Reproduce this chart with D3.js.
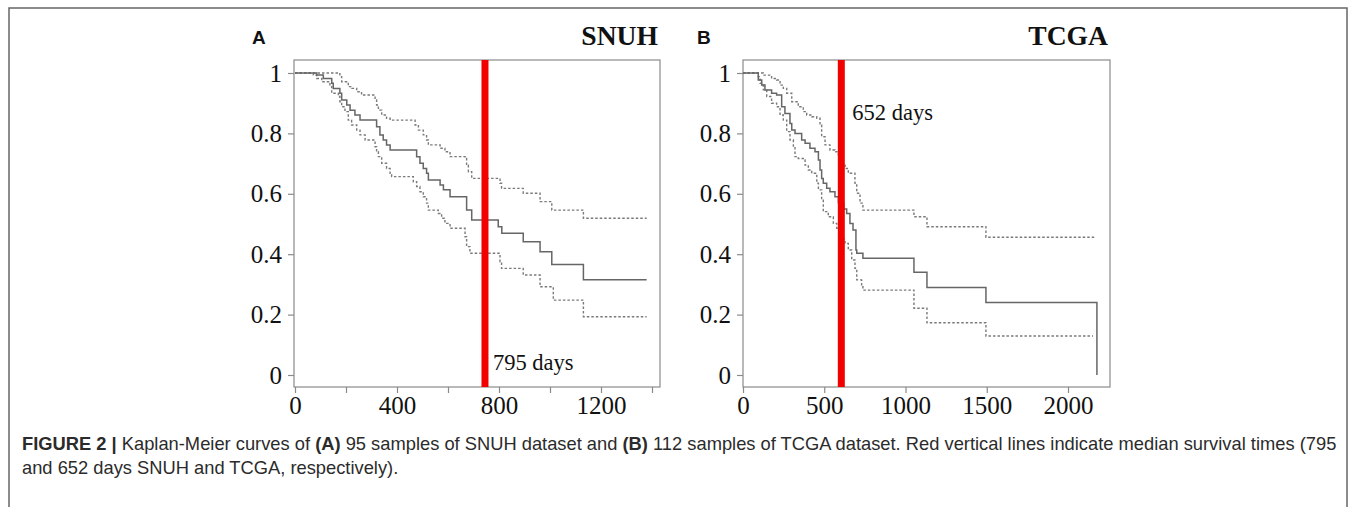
<!DOCTYPE html>
<html lang="en">
<head>
<meta charset="UTF-8">
<title>Kaplan-Meier curves</title>
<script src="https://d3js.org/d3.v7.min.js"></script>
<style>
  body { margin: 0; background: #fff; }
</style>
</head>
<body>
<svg width="1358" height="507"></svg>
<script>
// --- data: [days, survival] step points ---
var snuhSurv = [[0,1],[85,0.993],[111,0.982],[144,0.966],[150,0.949],[176,0.933],[183,0.911],[203,0.894],[216,0.877],[235,0.861],[255,0.844],[320,0.822],[333,0.795],[346,0.778],[359,0.762],[373,0.745],[477,0.723],[490,0.701],[503,0.684],[516,0.668],[523,0.646],[569,0.629],[582,0.613],[608,0.590],[673,0.546],[693,0.513],[797,0.491],[811,0.469],[895,0.441],[961,0.408],[1007,0.366],[1131,0.315],[1379,0.315]];
var snuhUpper = [[0,1],[176,0.988],[183,0.971],[209,0.955],[222,0.949],[242,0.938],[261,0.927],[314,0.911],[320,0.894],[327,0.877],[340,0.861],[359,0.85],[373,0.844],[471,0.828],[484,0.811],[503,0.795],[516,0.778],[523,0.762],[569,0.751],[588,0.739],[608,0.723],[667,0.717],[673,0.695],[680,0.673],[693,0.651],[804,0.635],[810,0.618],[895,0.602],[961,0.574],[1007,0.546],[1131,0.519],[1379,0.519]];
var snuhLower = [[0,1],[72,0.993],[85,0.982],[105,0.971],[137,0.955],[144,0.933],[170,0.922],[176,0.905],[183,0.888],[196,0.872],[209,0.844],[222,0.828],[242,0.811],[255,0.795],[275,0.778],[314,0.756],[320,0.739],[327,0.723],[340,0.701],[359,0.684],[373,0.668],[379,0.657],[464,0.640],[477,0.624],[490,0.607],[503,0.590],[516,0.569],[523,0.546],[562,0.535],[575,0.519],[588,0.502],[608,0.486],[667,0.458],[673,0.425],[686,0.403],[804,0.375],[810,0.353],[895,0.331],[961,0.292],[1013,0.248],[1131,0.193],[1379,0.193]];

var tcgaSurv = [[0,1],[94,0.977],[115,0.96],[135,0.944],[176,0.933],[207,0.927],[238,0.888],[258,0.866],[289,0.833],[300,0.811],[320,0.8],[361,0.778],[382,0.767],[412,0.751],[443,0.739],[464,0.712],[474,0.679],[484,0.651],[494,0.635],[515,0.618],[535,0.607],[566,0.59],[587,0.57],[620,0.55],[638,0.535],[658,0.502],[677,0.48],[695,0.414],[700,0.403],[738,0.387],[1052,0.34],[1132,0.29],[1495,0.24],[2178,0]];
var tcgaUpper = [[0,1],[125,0.993],[176,0.982],[207,0.977],[228,0.96],[248,0.949],[269,0.933],[300,0.905],[340,0.888],[371,0.872],[392,0.861],[423,0.855],[454,0.85],[474,0.828],[484,0.789],[505,0.762],[535,0.745],[566,0.739],[587,0.728],[610,0.70],[628,0.684],[648,0.668],[689,0.635],[700,0.602],[720,0.569],[738,0.546],[1052,0.524],[1132,0.491],[1495,0.456],[2166,0.456]];
var tcgaLower = [[0,1],[94,0.988],[105,0.966],[125,0.944],[146,0.922],[176,0.9],[207,0.888],[228,0.861],[248,0.844],[269,0.806],[289,0.778],[310,0.756],[320,0.723],[340,0.717],[371,0.712],[382,0.695],[402,0.679],[423,0.668],[454,0.635],[464,0.613],[484,0.579],[494,0.541],[525,0.524],[556,0.502],[577,0.486],[610,0.45],[628,0.436],[648,0.414],[669,0.381],[689,0.353],[700,0.315],[730,0.292],[738,0.281],[1052,0.221],[1132,0.173],[1495,0.129],[2154,0.129]];

var yTicks = [0, 0.2, 0.4, 0.6, 0.8, 1];
var snuhXTicks = [0, 200, 400, 600, 800, 1000, 1200, 1400];
var snuhXLabels = [0, 400, 800, 1200];
var tcgaXTicks = [0, 500, 1000, 1500, 2000];
var tcgaXLabels = [0, 500, 1000, 1500, 2000];

var snuhMedianPos = 745;   // where the red line sits on the picture
var tcgaMedianPos = 605;
var snuhMedianText = '795 days';
var tcgaMedianText = '652 days';

var svg = d3.select('svg');
var serif = '"Liberation Serif", "Times New Roman", serif';
var sans = '"Liberation Sans", Arial, sans-serif';

// outer figure frame (open at the bottom)
svg.append('path')
    .attr('d', 'M9,507V8H1347V507')
    .attr('fill', 'none')
    .attr('stroke', '#666')
    .attr('stroke-width', 1.5);

function drawPanel(p) {
    var x = d3.scaleLinear().domain(p.xDomain).range(p.xRange);
    var y = d3.scaleLinear().domain([0, 1]).range([375, 73]);
    var g = svg.append('g');

    // box
    g.append('rect')
        .attr('x', p.box[0]).attr('y', 60)
        .attr('width', p.box[1] - p.box[0]).attr('height', 327)
        .attr('fill', 'none').attr('stroke', '#8a8a8a').attr('stroke-width', 1.2);

    // axes
    var ax = g.append('g').attr('transform', 'translate(0,387)')
        .call(d3.axisBottom(x).tickValues(p.xTicks).tickSize(6).tickSizeOuter(0)
            .tickFormat(function (d) { return p.xLabels.indexOf(d) >= 0 ? d : ''; }));
    var ay = g.append('g').attr('transform', 'translate(' + p.box[0] + ',0)')
        .call(d3.axisLeft(y).tickValues(yTicks).tickSize(6).tickPadding(6).tickSizeOuter(0)
            .tickFormat(function (d) { return d === 0 || d === 1 ? d : d3.format('.1f')(d); }));
    [ax, ay].forEach(function (a) {
        a.select('.domain').remove();
        a.selectAll('line').attr('stroke', '#8a8a8a').attr('stroke-width', 1.2);
        a.selectAll('text').attr('fill', '#111').style('font-family', serif).style('font-size', '25px');
    });
    ax.selectAll('text').attr('y', 9);

    var line = d3.line()
        .x(function (d) { return x(d[0]); })
        .y(function (d) { return y(d[1]); })
        .curve(d3.curveStepAfter);

    [p.upper, p.lower].forEach(function (s) {
        g.append('path').attr('d', line(s))
            .attr('fill', 'none').attr('stroke', '#7a7a7a')
            .attr('stroke-width', 1.4).attr('stroke-dasharray', '2.5,2');
    });
    g.append('path').attr('d', line(p.surv))
        .attr('fill', 'none').attr('stroke', '#666').attr('stroke-width', 1.5);

    // median line
    g.append('line')
        .attr('x1', x(p.median)).attr('x2', x(p.median))
        .attr('y1', 60).attr('y2', 387)
        .attr('stroke', '#f20000').attr('stroke-width', 7);

    g.append('text')
        .attr('x', x(p.median) + p.labelDx).attr('y', p.labelY)
        .style('font-family', serif).style('font-size', '22.5px').attr('fill', '#111')
        .text(p.medianText);

    g.append('text')
        .attr('x', p.box[1] - 2).attr('y', 45).attr('text-anchor', 'end')
        .style('font-family', serif).style('font-size', '27.6px').style('font-weight', 'bold')
        .attr('fill', '#111').text(p.title);

    g.append('text')
        .attr('x', p.letterX).attr('y', 44)
        .style('font-family', sans).style('font-size', '16px').style('font-weight', 'bold')
        .attr('fill', '#111').text(p.letter);
}

drawPanel({
    xDomain: [0, 1400], xRange: [295, 652], box: [294, 660],
    xTicks: snuhXTicks, xLabels: snuhXLabels,
    surv: snuhSurv, upper: snuhUpper, lower: snuhLower,
    median: snuhMedianPos, medianText: snuhMedianText, labelDx: 8, labelY: 370,
    title: 'SNUH', letter: 'A', letterX: 252
});
drawPanel({
    xDomain: [0, 2000], xRange: [743, 1068], box: [743, 1110],
    xTicks: tcgaXTicks, xLabels: tcgaXLabels,
    surv: tcgaSurv, upper: tcgaUpper, lower: tcgaLower,
    median: tcgaMedianPos, medianText: tcgaMedianText, labelDx: 11, labelY: 120,
    title: 'TCGA', letter: 'B', letterX: 697
});
// panel letters a little bigger
svg.selectAll('text').filter(function () { return this.textContent === 'A' || this.textContent === 'B'; })
    .style('font-size', '19px');

// caption
var cap = svg.append('g').style('font-family', sans).style('font-size', '17.5px').attr('fill', '#2b2b2b');
var l1 = cap.append('text').attr('x', 0).attr('y', 0);
[['FIGURE 2 | ', true], ['Kaplan-Meier curves of ', false], ['(A)', true], [' 95 samples of SNUH dataset and ', false],
 ['(B)', true], [' 112 samples of TCGA dataset. Red vertical lines indicate median survival times (795', false]]
    .forEach(function (t) {
        l1.append('tspan').style('font-weight', t[1] ? 'bold' : 'normal').text(t[0]);
    });
var l2 = cap.append('text').attr('x', 0).attr('y', 24).text('and 652 days SNUH and TCGA, respectively).');
var k = 1315 / l1.node().getComputedTextLength();
cap.attr('transform', 'translate(22,450) scale(' + k + ',1)');
</script>
</body>
</html>
